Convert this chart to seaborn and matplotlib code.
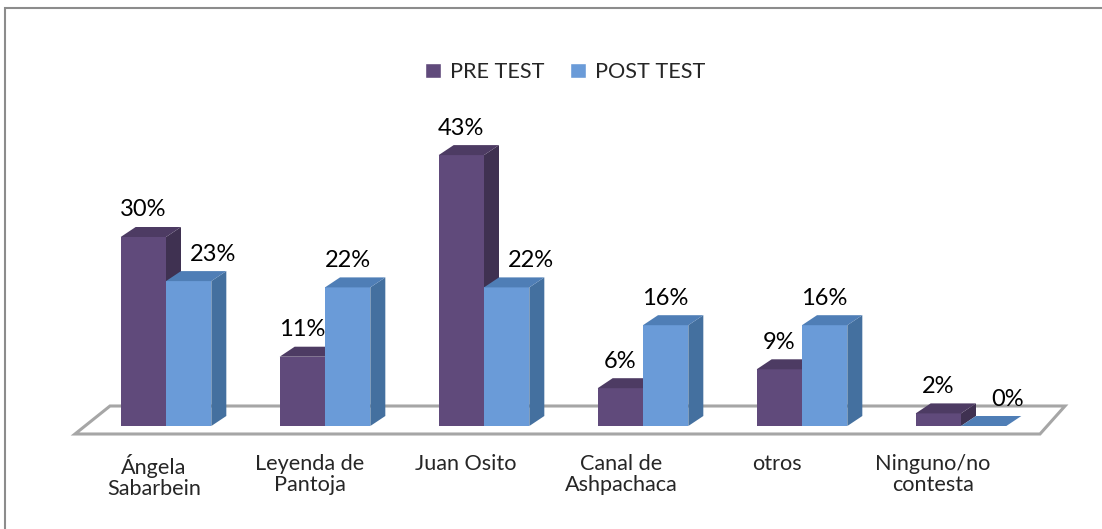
import numpy as np
import pandas as pd
import matplotlib
matplotlib.use("Agg")
import matplotlib.pyplot as plt
from matplotlib.patches import Polygon, Rectangle
import seaborn as sns

categories = ["Ángela\nSabarbein", "Leyenda de\nPantoja", "Juan Osito",
              "Canal de\nAshpachaca", "otros", "Ninguno/no\ncontesta"]
pre_test = [30, 11, 43, 6, 9, 2]
post_test = [23, 22, 22, 16, 16, 0]
series = ["PRE TEST", "POST TEST"]

front = {"PRE TEST": "#604A7B", "POST TEST": "#6A9BD8"}
side = {"PRE TEST": "#3F3151", "POST TEST": "#44709F"}
top = {"PRE TEST": "#4D3B63", "POST TEST": "#4F7EB6"}

df = pd.DataFrame({
    "cat": categories * 2,
    "serie": [series[0]] * len(categories) + [series[1]] * len(categories),
    "val": pre_test + post_test,
})

sns.set_style("white")
plt.rcParams["font.family"] = ["Lato", "DejaVu Sans"]

W, H = 1102, 529
fig = plt.figure(figsize=(W / 100, H / 100), dpi=100)

# pixel layout of the plot area
base_px, top_px = 426, 100
x0_px, step_px = 166, 159
ppu = 6.3  # pixels per percent
ax = fig.add_axes([0, (H - base_px) / H, 1, (base_px - top_px) / H])

sns.barplot(data=df, x="cat", y="val", hue="serie", hue_order=series,
            palette=front, width=0.57, saturation=1, ax=ax, legend=False)

ax.set_xlim(-x0_px / step_px, (W - x0_px) / step_px)
ax.set_ylim(0, (base_px - top_px) / ppu)

dx = 15 / step_px
dy = 10 / ppu

# floor of the 3d chart
fl, fb = -8 / ppu, 20 / ppu
floor = Polygon([((75 - x0_px) / step_px, fl), ((110 - x0_px) / step_px, fb),
                 ((1065 - x0_px) / step_px, fb), ((1040 - x0_px) / step_px, fl)],
                closed=True, facecolor="white", edgecolor="#A6A6A6", lw=2.2,
                zorder=1, clip_on=False)
ax.add_patch(floor)

bars = [b for b in ax.patches if b is not floor]
n = len(categories)
for k, b in enumerate(bars):
    s = series[k // n]
    i = k % n
    z = 5 + 2 * i + (k // n)
    b.set_zorder(z)
    b.set_linewidth(0)
    xa = b.get_x()
    xb = xa + b.get_width()
    h = b.get_height()
    sp = Polygon([(xb, 0), (xb + dx, dy), (xb + dx, h + dy), (xb, h)],
                 closed=True, facecolor=side[s], lw=0, zorder=z, clip_on=False)
    tp = Polygon([(xa, h), (xa + dx, h + dy), (xb + dx, h + dy), (xb, h)],
                 closed=True, facecolor=top[s], lw=0, zorder=z, clip_on=False)
    ax.add_patch(sp)
    ax.add_patch(tp)
    shift = 0
    if s == "POST TEST" and post_test[i] < pre_test[i]:
        shift = 24 / step_px
    ax.text((xa + xb) / 2 + shift, h + 27 / ppu, f"{h:.0f}%", ha="center",
            va="center", fontsize=17, color="#000000", zorder=30)

ax.set_xticks(np.arange(n) * 0.98 - 0.075)
ax.set_xticklabels(categories, fontsize=15.6, linespacing=1.05)
for t in ax.get_xticklabels():
    t.set_multialignment("center")
ax.tick_params(axis="x", length=0, pad=20)
ax.set_yticks([])
ax.set_xlabel("")
ax.set_ylabel("")
for sp_ in ax.spines.values():
    sp_.set_visible(False)
ax.patch.set_alpha(0)

# legend
handles = [Rectangle((0, 0), 1, 1, facecolor=front[s]) for s in series]
fig.legend(handles, series, loc="center", bbox_to_anchor=(565 / W, 1 - 72 / H),
           ncol=2, frameon=False, fontsize=15.6, handlelength=0.75,
           handleheight=0.75, handletextpad=0.4, columnspacing=1.2)

# outer chart border
fig.patches.append(Rectangle((5 / W, -0.1), 1.5, 1 - 8 / H + 0.1,
                             transform=fig.transFigure, fill=False,
                             edgecolor="#8C8C8C", lw=1.5))

fig.savefig("out.png", dpi=100)
